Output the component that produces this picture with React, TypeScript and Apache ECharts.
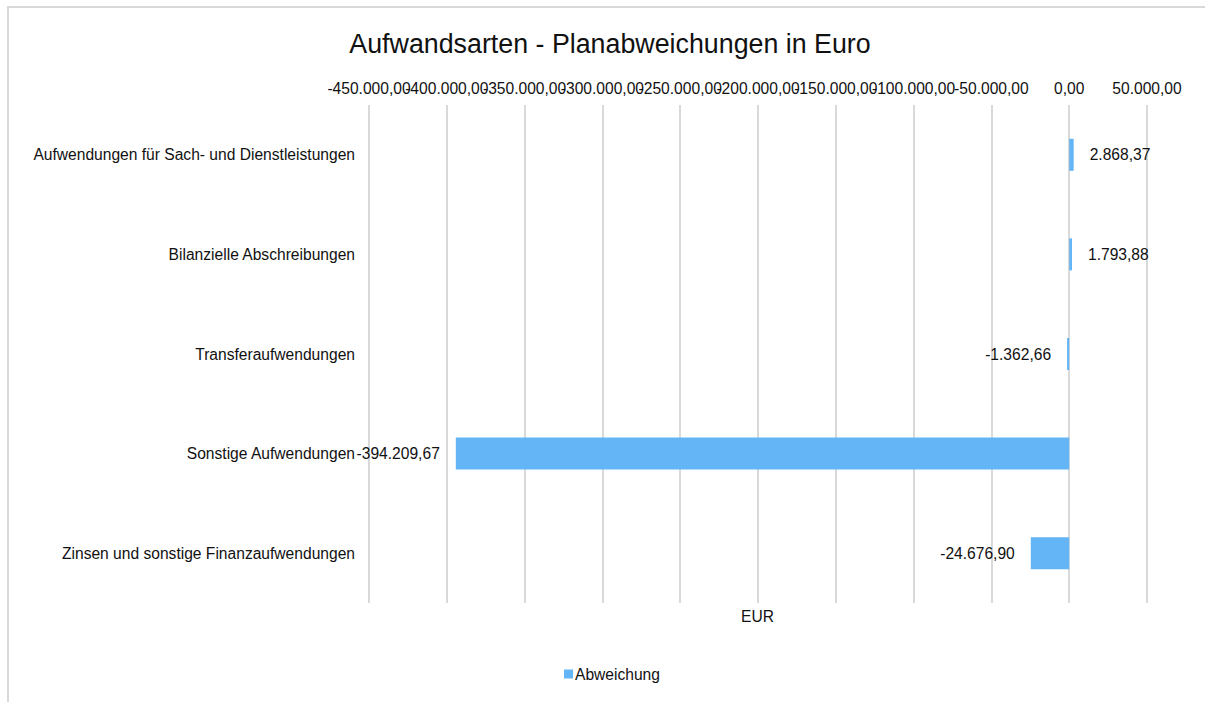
import React, { useEffect, useRef } from "react";
import * as echarts from "echarts";

const categories = [
  "Aufwendungen für Sach- und Dienstleistungen",
  "Bilanzielle Abschreibungen",
  "Transferaufwendungen",
  "Sonstige Aufwendungen",
  "Zinsen und sonstige Finanzaufwendungen",
];
const values = [2868.37, 1793.88, -1362.66, -394209.67, -24676.9];
const seriesName = "Abweichung";
const axisMin = -450000;
const axisMax = 50000;
const axisInterval = 50000;

function fmt(v: number): string {
  const neg = v < 0;
  const abs = Math.abs(v);
  const fixed = abs.toFixed(2);
  const [intPart, dec] = fixed.split(".");
  const withDots = intPart.replace(/\B(?=(\d{3})+(?!\d))/g, ".");
  return (neg ? "-" : "") + withDots + "," + dec;
}

const FONT = "'Liberation Sans', Arial, sans-serif";
const FS = 15.6;

function makeXAxis(odd: boolean, split: boolean) {
  return {
    type: "value",
    position: "top",
    min: axisMin,
    max: axisMax,
    interval: axisInterval,
    axisLine: { show: false },
    axisTick: { show: false },
    axisLabel: {
      formatter: (v: number) => {
        const k = Math.round(v / axisInterval);
        const isOdd = Math.abs(k) % 2 === 1;
        return isOdd === odd ? fmt(v) : "";
      },
      fontSize: FS,
      color: "#111",
      margin: 9,
      fontFamily: FONT,
      showMinLabel: true,
      showMaxLabel: true,
    },
    splitLine: { show: split, lineStyle: { color: "#d9d9d9", width: 2 } },
  };
}

export default function App() {
  const ref = useRef<HTMLDivElement>(null);
  useEffect(() => {
    if (!ref.current) return;
    const chart = echarts.init(ref.current, undefined, { renderer: "svg" });
    chart.setOption({
      animation: false,
      textStyle: { fontFamily: FONT },
      title: {
        text: "Aufwandsarten - Planabweichungen in Euro",
        left: 605,
        textAlign: "center",
        top: 25,
        textStyle: { fontFamily: FONT, fontSize: 26.8, fontWeight: "normal", color: "#111" },
      },
      grid: { left: 369, right: 58, top: 105, bottom: 99, containLabel: false },
      xAxis: [makeXAxis(true, true), makeXAxis(false, false)],
      yAxis: {
        type: "category",
        data: categories,
        inverse: true,
        axisLine: { show: false },
        axisTick: { show: false },
        axisLabel: { fontSize: FS, color: "#111", margin: 14, fontFamily: FONT },
        splitLine: { show: false },
      },
      legend: {
        data: [seriesName],
        top: 666,
        left: 564,
        padding: 0,
        itemWidth: 9,
        itemHeight: 9,
        itemGap: 2,
        icon: "rect",
        textStyle: { fontSize: FS, color: "#111", padding: [0, 0, 0, -3], fontFamily: FONT },
      },
      graphic: [
        {
          type: "text",
          left: 741,
          top: 608,
          style: { text: "EUR", fontSize: FS, fill: "#111", fontFamily: FONT },
        },
      ],
      series: [
        {
          name: seriesName,
          type: "bar",
          xAxisIndex: 0,
          data: values.map((v) => ({
            value: v,
            label: { position: v >= 0 ? "right" : "left" },
          })),
          barWidth: 32,
          itemStyle: { color: "#63b5f6" },
          label: {
            show: true,
            distance: 16,
            fontSize: FS,
            color: "#111",
            fontFamily: FONT,
            formatter: (p: any) => fmt(p.value),
          },
        },
      ],
    });
    return () => chart.dispose();
  }, []);
  return (
    <div style={{ position: "absolute", left: 0, top: 0, width: 1205, height: 702, overflow: "hidden", background: "#fff" }}>
      <div
        style={{
          position: "absolute",
          left: 7,
          top: 6,
          width: 1300,
          height: 800,
          borderLeft: "2px solid #d9d9d9",
          borderTop: "2px solid #d9d9d9",
        }}
      />
      <div ref={ref} style={{ position: "absolute", left: 0, top: 0, width: 1205, height: 702 }} />
    </div>
  );
}
